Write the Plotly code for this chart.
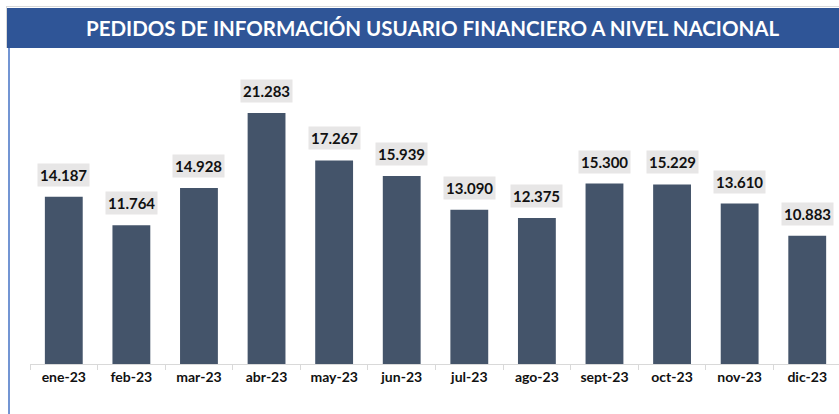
import plotly.graph_objects as go

categories = ["ene-23", "feb-23", "mar-23", "abr-23", "may-23", "jun-23",
              "jul-23", "ago-23", "sept-23", "oct-23", "nov-23", "dic-23"]
values = [14187, 11764, 14928, 21283, 17267, 15939,
          13090, 12375, 15300, 15229, 13610, 10883]
labels = ["14.187", "11.764", "14.928", "21.283", "17.267", "15.939",
          "13.090", "12.375", "15.300", "15.229", "13.610", "10.883"]
title_text = "PEDIDOS DE INFORMACIÓN USUARIO FINANCIERO A NIVEL NACIONAL"

FONT = "Lato"
W, H = 839, 414
ML, MR, MT, MB = 30, 0, 60, 50
PW, PH = W - ML - MR, H - MT - MB


def px_x(x):
    return (x - ML) / PW


def px_y(y):
    return (H - MB - y) / PH


fig = go.Figure(go.Bar(
    x=categories, y=values, marker_color="#44546A", marker_line_width=0,
    hoverinfo="x+y",
))

for c, v, t in zip(categories, values, labels):
    fig.add_annotation(
        x=c, y=v, text=f"<b>{t}</b>", showarrow=False, yanchor="bottom",
        yshift=10, bgcolor="#E7E6E6", borderpad=2,
        font=dict(family=FONT, size=15, color="#111111"),
    )

# title band
fig.add_shape(type="rect", xref="paper", yref="paper",
              x0=px_x(7), x1=px_x(839), y0=px_y(48), y1=px_y(8),
              fillcolor="#2F5597", line_width=0, layer="above")
fig.add_annotation(xref="paper", yref="paper", x=px_x(433), y=px_y(28),
                   text=f"<b>{title_text}</b>", showarrow=False,
                   font=dict(family=FONT, size=20.5, color="white"),
                   xanchor="center", yanchor="middle")
# frame lines
fig.add_shape(type="line", xref="paper", yref="paper",
              x0=px_x(9), x1=px_x(9), y0=px_y(414), y1=px_y(48),
              line=dict(color="#4472C4", width=1.5))
fig.add_shape(type="line", xref="paper", yref="paper",
              x0=px_x(6), x1=px_x(839), y0=px_y(6.5), y1=px_y(6.5),
              line=dict(color="#D9D9D9", width=1))
fig.add_shape(type="line", xref="paper", yref="paper",
              x0=px_x(6.5), x1=px_x(6.5), y0=px_y(48), y1=px_y(6),
              line=dict(color="#D9D9D9", width=1))

fig.update_layout(
    width=W, height=H,
    margin=dict(l=ML, r=MR, t=MT, b=MB),
    paper_bgcolor="white", plot_bgcolor="white",
    bargap=0.44, showlegend=False,
    font=dict(family=FONT),
)
fig.update_xaxes(
    range=[-0.5, 11.47], showgrid=False, showline=True, linecolor="#D9D9D9",
    linewidth=1, ticks="outside", tickson="boundaries", ticklen=5,
    tickcolor="#D9D9D9", tickfont=dict(family=FONT, size=14, color="#111111"),
    tickprefix="<b>", ticksuffix="</b>",
)
fig.update_yaxes(range=[0, 25785], visible=False, showgrid=False)

fig.write_html(
    "out.html",
    config={"displayModeBar": False},
    post_script="document.body.style.margin='0';document.body.style.overflow='hidden';",
)
